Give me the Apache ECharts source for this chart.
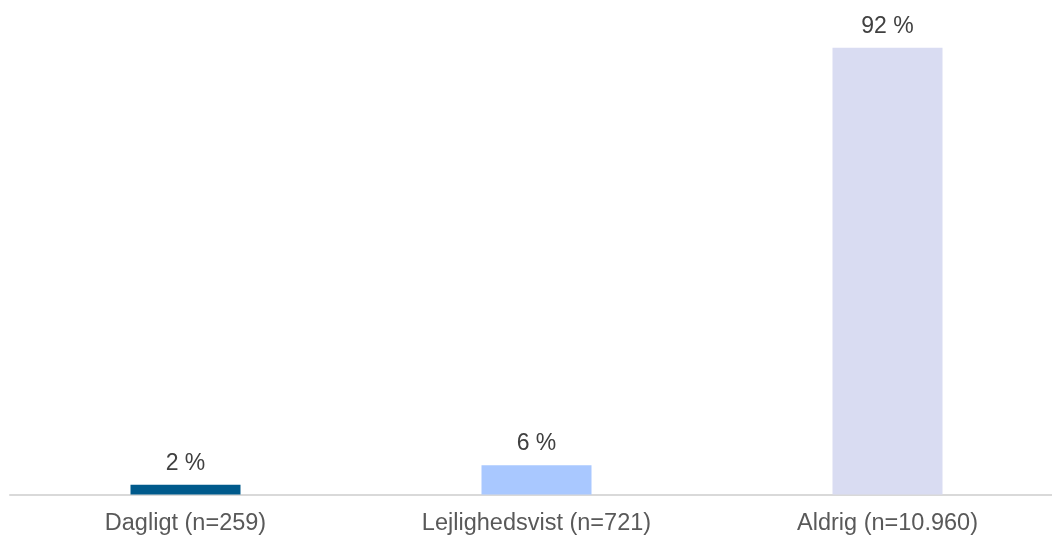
<!DOCTYPE html>
<html><head><meta charset="utf-8">
<script src="https://cdn.jsdelivr.net/npm/echarts@6/dist/echarts.min.js"></script>
<style>html,body{margin:0;padding:0;background:#fff}#c{width:1052px;height:537px}</style>
</head><body><div id="c"></div>
<script>
const categories = ['Dagligt (n=259)', 'Lejlighedsvist (n=721)', 'Aldrig (n=10.960)'];
const values = [2, 6, 92];
const barColors = ['#005A8C', '#A9C8FF', '#D9DCF2'];

const chart = echarts.init(document.getElementById('c'), null, {renderer: 'canvas'});
chart.setOption({
  animation: false,
  grid: {left: 10, right: -11, top: 9, bottom: 42.5, containLabel: false, outerBoundsMode: 'none'},
  xAxis: {
    type: 'category', data: categories,
    axisLine: {lineStyle: {color: '#D9D9D9', width: 2}},
    axisTick: {show: false},
    axisLabel: {color: '#595959', fontSize: 23.5, fontFamily: 'Liberation Sans', margin: 17}
  },
  yAxis: {type: 'value', min: 0, max: 100, show: false, splitLine: {show: false}},
  series: [{
    type: 'bar', barWidth: 110,
    data: values.map((v, i) => ({value: v, itemStyle: {color: barColors[i]}})),
    label: {show: true, position: 'top', distance: 10, formatter: p => p.value + ' %',
      color: '#404040', fontSize: 23, fontFamily: 'Liberation Sans'}
  }]
});
</script></body></html>
